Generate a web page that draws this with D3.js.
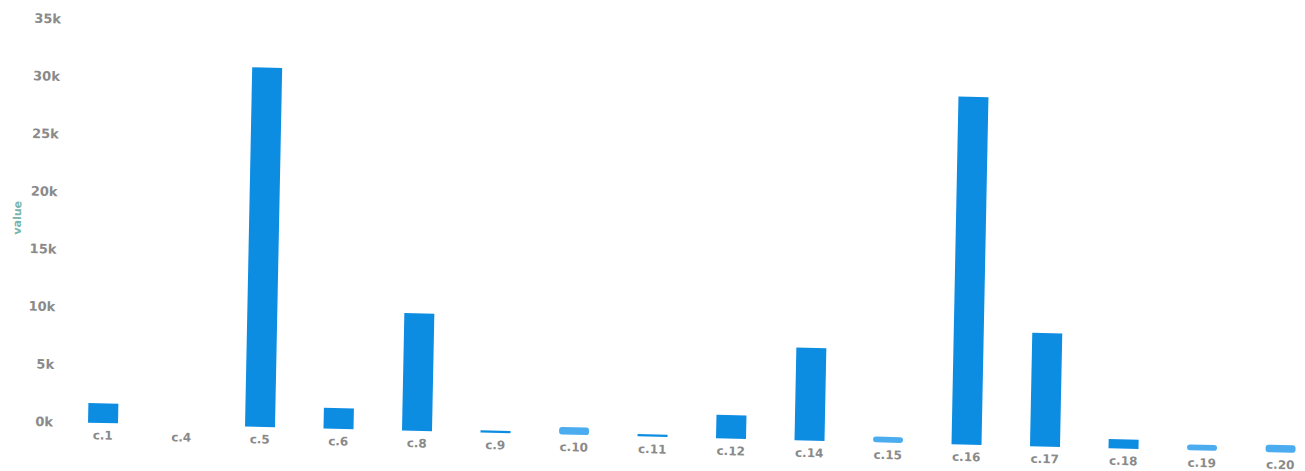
<!DOCTYPE html>
<html>
<head>
<meta charset="utf-8">
<script src="https://cdn.jsdelivr.net/npm/d3@7"></script>
<style>
  html, body { margin: 0; padding: 0; background: #fff; }
  svg { display: block; }
  text { font-family: "DejaVu Sans", sans-serif; font-weight: bold; }
</style>
</head>
<body>
<svg id="chart" width="1305" height="471"></svg>
<script>
// ---- data ----
const categories = ["c.1","c.4","c.5","c.6","c.8","c.9","c.10","c.11","c.12","c.14","c.15","c.16","c.17","c.18","c.19","c.20"];
const values = [1700, 0, 31200, 1800, 10200, 180, 650, 200, 2050, 8050, 500, 30200, 9850, 800, 500, 650];
const lightBars = ["c.10","c.15","c.19","c.20"];
const yTicks = [0, 5000, 10000, 15000, 20000, 25000, 30000, 35000];
const yTickLabels = ["0k","5k","10k","15k","20k","25k","30k","35k"];
const yTitle = "value";

// ---- layout ----
const step = 78.5, firstCenter = 103;
const x0 = firstCenter - step / 2;
const baseY = 423, topY = 20;

const svg = d3.select("#chart");
const cx = firstCenter, cy = baseY;
const g = svg.append("g")
  .attr("transform", `translate(${cx},${cy}) matrix(1,0.025,-0.02,1,0,0) translate(${-cx},${-cy})`);

const x = d3.scaleBand()
  .domain(categories)
  .range([x0, x0 + step * categories.length])
  .paddingInner(0.618)
  .paddingOuter(0.309);

const y = d3.scaleLinear().domain([0, 35000]).range([baseY, topY]);

// y axis
const yAxis = d3.axisLeft(y)
  .tickValues(yTicks)
  .tickFormat((d, i) => yTickLabels[i])
  .tickSize(0)
  .tickPadding(9);
const ya = g.append("g").attr("transform", "translate(62,0)").call(yAxis);
ya.select(".domain").remove();
ya.selectAll("text")
  .attr("fill", "#8a8a8a")
  .style("font-size", "13px")
  .style("font-family", "'DejaVu Sans', sans-serif")
  .style("font-weight", "bold");

// y title
g.append("text")
  .attr("transform", "translate(17,220) rotate(-90)")
  .attr("text-anchor", "middle")
  .attr("fill", "#79b5ac")
  .style("font-size", "11px")
  .text(yTitle);

// bars
g.append("g").selectAll("rect")
  .data(categories.map((c, i) => ({ c, v: values[i] })).filter(d => d.v > 0))
  .join("rect")
  .attr("x", d => x(d.c))
  .attr("width", x.bandwidth())
  .attr("y", d => y(d.v))
  .attr("height", d => baseY - y(d.v))
  .attr("rx", d => lightBars.includes(d.c) ? 3 : 0)
  .attr("fill", d => lightBars.includes(d.c) ? "#4badf0" : "#0d8de2");

// x axis
const xAxis = d3.axisBottom(x).tickSize(0).tickPadding(8);
const xa = g.append("g").attr("transform", `translate(0,${baseY})`).call(xAxis);
xa.select(".domain").remove();
xa.selectAll("text")
  .attr("fill", "#8a8a8a")
  .style("font-size", "12px")
  .style("font-family", "'DejaVu Sans', sans-serif")
  .style("font-weight", "bold");
</script>
</body>
</html>
